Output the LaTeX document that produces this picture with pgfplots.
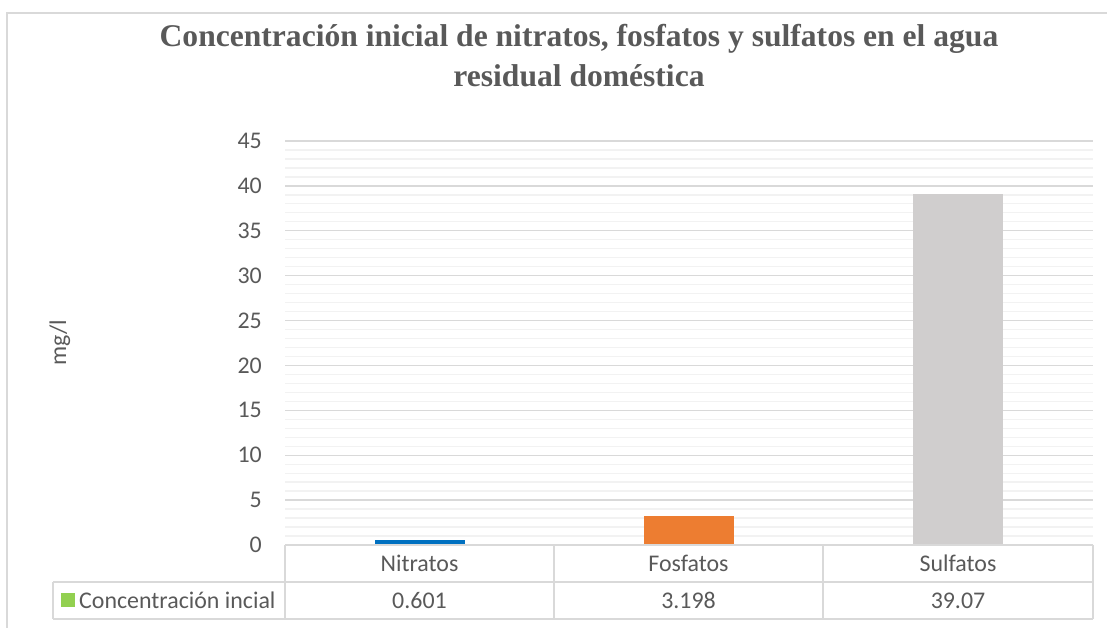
\documentclass[border=0pt]{standalone}
\usepackage{pgfplots}
\pgfplotsset{compat=1.18}
\usepackage{fontspec}
\setmainfont{Carlito}
\newfontfamily\titlefont{Liberation Serif}
\definecolor{txtgray}{HTML}{595959}
\definecolor{gridmaj}{HTML}{D9D9D9}
\definecolor{gridmin}{HTML}{F2F2F2}
\definecolor{frame}{HTML}{D9D9D9}
\definecolor{cblue}{HTML}{0070C0}
\definecolor{corange}{HTML}{ED7D31}
\definecolor{cgray}{HTML}{D0CECE}
\definecolor{cgreen}{HTML}{92D050}
\newcommand{\lbl}{\fontsize{24}{28}\selectfont\color{txtgray}}
\begin{document}
\begin{tikzpicture}[x=1bp,y=1bp]
\path[use as bounding box] (0,0) rectangle (1107,628);
% chart frame
\draw[frame, line width=2bp] (7,0) -- (7,615) -- (1108,615);
% title
\node[anchor=base, inner sep=0pt, text=txtgray] at (579,581) {\titlefont\bfseries\fontsize{31.7}{36}\selectfont Concentración inicial de nitratos, fosfatos y sulfatos en el agua};
\node[anchor=base, inner sep=0pt, text=txtgray] at (579,541) {\titlefont\bfseries\fontsize{31.7}{36}\selectfont residual doméstica};
% y label
\node[rotate=90, inner sep=0pt, anchor=center] at (60,285) {\lbl mg/l};
\begin{axis}[
  at={(285bp,83bp)}, anchor=south west,
  scale only axis, width=808bp, height=404bp,
  xmin=-0.5, xmax=2.5, ymin=0, ymax=45,
  xtick=\empty,
  ytick={0,5,...,45},
  minor y tick num=4,
  ymajorgrids, yminorgrids,
  major grid style={draw=gridmaj, line width=1.3bp},
  minor grid style={draw=gridmin, line width=1.3bp},
  axis line style={draw=none},
  tick style={draw=none},
  /pgf/number format/assume math mode=true,
  yticklabel style={font=\lbl, anchor=east, inner sep=0pt, xshift=-23bp},
  clip=false,
]
\addplot[ybar, bar width=90bp, bar shift=0pt, fill=cblue, draw=none] coordinates {(0,0.601)};
\addplot[ybar, bar width=90bp, bar shift=0pt, fill=corange, draw=none] coordinates {(1,3.198)};
\addplot[ybar, bar width=90bp, bar shift=0pt, fill=cgray, draw=none] coordinates {(2,39.07)};
\end{axis}
% data table
\draw[frame, line width=1.3bp] (285,83) -- (1093,83);
\draw[frame, line width=1.3bp] (53,46) -- (1093,46);
\draw[frame, line width=1.3bp] (53,9) -- (1093,9);
\draw[frame, line width=1.3bp] (53,46) -- (53,9);
\foreach \xx in {285,554,823,1093} {\draw[frame, line width=1.3bp] (\xx,83) -- (\xx,9);}
\node[inner sep=0pt] at (419.5,64.5) {\lbl Nitratos};
\node[inner sep=0pt] at (688.5,64.5) {\lbl Fosfatos};
\node[inner sep=0pt] at (958,64.5) {\lbl Sulfatos};
\node[inner sep=0pt] at (419.5,27.5) {\lbl 0.601};
\node[inner sep=0pt] at (688.5,27.5) {\lbl 3.198};
\node[inner sep=0pt] at (958,27.5) {\lbl 39.07};
\fill[cgreen] (61,21) rectangle (75,35);
\node[inner sep=0pt, anchor=west] at (79,27.5) {\lbl Concentración incial};
\end{tikzpicture}
\end{document}
